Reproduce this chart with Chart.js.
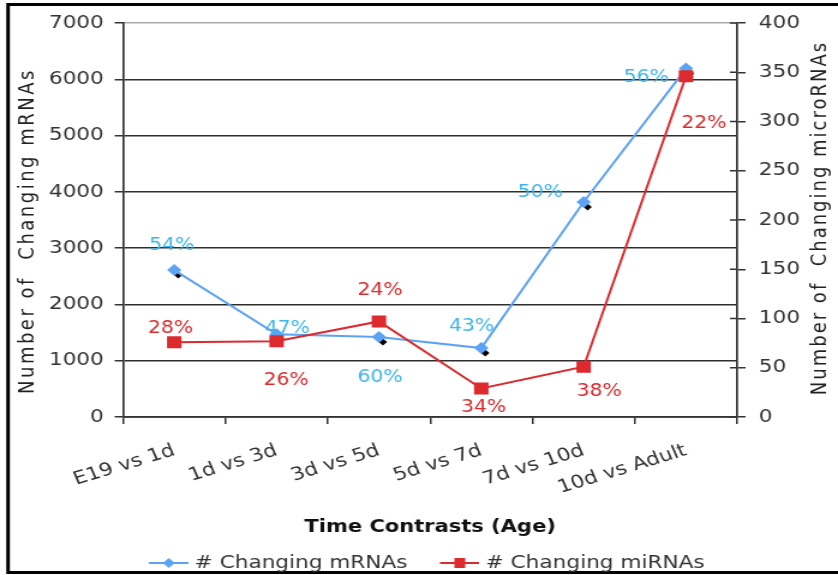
<html>
<head>
<style>
html, body { margin: 0; padding: 0; background: #fff; }
/* the original picture is stretched sideways, so the canvas is drawn narrow and widened */
#chart { display: block; width: 838px !important; height: 575px !important; }
</style>
</head>
<body>
<canvas id="chart" width="698" height="575"></canvas>

<script src="https://cdn.jsdelivr.net/npm/chart.js@4/dist/chart.umd.min.js"></script>
<script>
// values
var categories = ['E19 vs 1d', '1d vs 3d', '3d vs 5d', '5d vs 7d', '7d vs 10d', '10d vs Adult'];
var mrnaCounts = [2610, 1470, 1420, 1225, 3820, 6190];
var mirnaCounts = [76, 77, 97, 29, 51, 346];
var mrnaPercents = ['54%', '47%', '60%', '43%', '50%', '56%'];
var mirnaPercents = ['28%', '26%', '24%', '34%', '38%', '22%'];
var leftTicks = [0, 1000, 2000, 3000, 4000, 5000, 6000, 7000];
var rightTicks = [0, 50, 100, 150, 200, 250, 300, 350, 400];

// where each percent label sits relative to its point
var mrnaLabelShift = [[-2, -25], [9, -6], [1, 41], [-8, -21], [-36, -9], [-33, 9]];
var mirnaLabelShift = [[-3, -14], [8, 39], [1, -31], [2, 19], [13, 25], [15, 47]];

var FONT = "'DejaVu Sans', Verdana, sans-serif";
var BLUE = '#5ca3f4';
var BLUE_TEXT = '#3cb6ee';
var RED = '#dc2a2e';
var INK = '#333';

function legendIcon(color, square) {
   var c = document.createElement('canvas');
   c.width = 58; c.height = 16;
   var g = c.getContext('2d');
   g.strokeStyle = color;
   g.lineWidth = 2;
   g.beginPath(); g.moveTo(25, 8); g.lineTo(58, 8); g.stroke();
   g.fillStyle = color;
   if (square) {
      g.fillRect(37, 3, 9, 10);
   } else {
      g.beginPath();
      g.moveTo(41.5, 3); g.lineTo(46.5, 8); g.lineTo(41.5, 13); g.lineTo(36.5, 8);
      g.closePath(); g.fill();
   }
   return c;
}
var icons = [legendIcon(BLUE, false), legendIcon(RED, true)];

function plainTick(v) { return String(v); }

var extras = {
   id: 'extras',
   beforeDraw: function (chart) {
      var ctx = chart.ctx;
      ctx.save();
      ctx.fillStyle = '#fff';
      ctx.fillRect(0, 0, chart.width, chart.height);
      ctx.strokeStyle = '#000';
      ctx.lineWidth = 3;
      ctx.beginPath();
      ctx.moveTo(chart.width + 5, 4.5); ctx.lineTo(6.7, 4.5); ctx.lineTo(6.7, 572.5); ctx.lineTo(chart.width + 5, 572.5);
      ctx.stroke();
      ctx.restore();
   },
   beforeDatasetDraw: function (chart, args) {
      if (args.index !== 0) return;
      // little dark shadow under each mRNA marker
      var ctx = chart.ctx;
      ctx.save();
      ctx.fillStyle = '#000';
      args.meta.data.forEach(function (pt) {
         var x = pt.x + 3.3, y = pt.y + 5;
         ctx.beginPath();
         ctx.moveTo(x, y - 3.5); ctx.lineTo(x + 3.5, y); ctx.lineTo(x, y + 3.5); ctx.lineTo(x - 3.5, y);
         ctx.closePath(); ctx.fill();
      });
      ctx.restore();
   },
   afterDatasetsDraw: function (chart) {
      var ctx = chart.ctx;
      ctx.save();
      ctx.font = '17px ' + FONT;
      ctx.textAlign = 'center';
      ctx.textBaseline = 'middle';
      [[mrnaPercents, mrnaLabelShift, BLUE_TEXT], [mirnaPercents, mirnaLabelShift, RED]].forEach(function (set, i) {
         var pts = chart.getDatasetMeta(i).data;
         ctx.fillStyle = set[2];
         pts.forEach(function (pt, j) {
            ctx.fillText(set[0][j], pt.x + set[1][j][0], pt.y + set[1][j][1]);
         });
      });
      ctx.restore();
   },
   afterDraw: function (chart) {
      var ctx = chart.ctx;
      var area = chart.chartArea;
      var y1 = chart.scales.y1;
      ctx.save();
      // right axis tick marks cross the axis line
      ctx.strokeStyle = INK;
      ctx.lineWidth = 1.5;
      rightTicks.forEach(function (v) {
         var y = y1.getPixelForValue(v);
         ctx.beginPath(); ctx.moveTo(area.right - 6, y); ctx.lineTo(area.right, y); ctx.stroke();
      });
      // axis titles, reading upwards
      ctx.fillStyle = '#222';
      ctx.font = '18px ' + FONT;
      ctx.textAlign = 'center';
      ctx.textBaseline = 'middle';
      ctx.letterSpacing = '2.5px';
      ctx.translate(23, 231); ctx.rotate(-Math.PI / 2);
      ctx.fillText('Number of  Changing mRNAs', 0, 0);
      ctx.setTransform(1, 0, 0, 1, 0, 0);
      ctx.letterSpacing = '2px';
      ctx.translate(683, 218); ctx.rotate(-Math.PI / 2);
      ctx.fillText('Number of  Changing microRNAs', 0, 0);
      ctx.restore();
   }
};

var context = document.getElementById('chart').getContext('2d');
var myChart = new Chart(context, {
   type: 'line',
   data: {
      labels: categories,
      datasets: [
         {
            label: '# Changing mRNAs',
            data: mrnaCounts,
            yAxisID: 'y',
            order: 2,
            borderColor: BLUE,
            backgroundColor: BLUE,
            borderWidth: 2,
            pointStyle: 'rectRot',
            pointRadius: 6,
            pointBorderWidth: 0,
            tension: 0
         },
         {
            label: '# Changing miRNAs',
            data: mirnaCounts,
            yAxisID: 'y1',
            order: 1,
            borderColor: RED,
            backgroundColor: RED,
            borderWidth: 2,
            pointStyle: 'rect',
            pointRadius: 8.5,
            pointBorderWidth: 0,
            tension: 0
         }
      ]
   },
   options: {
      responsive: false,
      animation: false,
      devicePixelRatio: 1,
      layout: { padding: { left: 8, right: 16, top: 23, bottom: -7 } },
      plugins: {
         tooltip: { enabled: false },
         legend: {
            position: 'bottom',
            labels: {
               usePointStyle: true,
               pointStyleWidth: 50,
               padding: 6,
               color: INK,
               font: { family: FONT, size: 18 },
               sort: function (a, b) { return a.datasetIndex - b.datasetIndex; },
               generateLabels: function (chart) {
                  var items = Chart.defaults.plugins.legend.labels.generateLabels(chart);
                  items.forEach(function (it) { it.pointStyle = icons[it.datasetIndex]; it.rotation = 0; });
                  return items;
               }
            }
         }
      },
      scales: {
         x: {
            offset: true,
            afterFit: function (s) { s.height = 131; },
            grid: { offset: true, drawOnChartArea: false, tickLength: 7, color: INK, lineWidth: 1.5 },
            border: { color: INK, width: 1.7 },
            ticks: {
               autoSkip: false, minRotation: 20, maxRotation: 20, padding: 16,
               color: INK, font: { family: FONT, size: 18 }
            },
            title: {
               display: true, text: 'Time Contrasts (Age)', color: '#111',
               font: { family: FONT, size: 17.5, weight: 'bold' },
               padding: { top: 0, bottom: 10.5 }
            }
         },
         y: {
            position: 'left',
            min: leftTicks[0], max: leftTicks[leftTicks.length - 1],
            afterFit: function (s) { s.width = 94.5; },
            afterBuildTicks: function (s) { s.ticks = leftTicks.map(function (v) { return { value: v }; }); },
            grid: {
               color: function (c) { return c.tick && c.tick.value === 7000 ? '#a8a8a8' : '#2e2e2e'; },
               tickColor: INK, lineWidth: 1.5, tickLength: 7
            },
            border: { color: INK, width: 1.7 },
            ticks: { padding: 9, color: INK, font: { family: FONT, size: 18 }, callback: plainTick }
         },
         y1: {
            position: 'right',
            min: rightTicks[0], max: rightTicks[rightTicks.length - 1],
            afterFit: function (s) { s.width = 68; },
            afterBuildTicks: function (s) { s.ticks = rightTicks.map(function (v) { return { value: v }; }); },
            grid: { drawOnChartArea: false, tickLength: 7, color: INK, lineWidth: 1.5 },
            border: { color: INK, width: 1.7 },
            ticks: { padding: 11, color: INK, font: { family: FONT, size: 18 }, callback: plainTick }
         }
      }
   },
   plugins: [extras]
});
</script>
</body>
</html>
